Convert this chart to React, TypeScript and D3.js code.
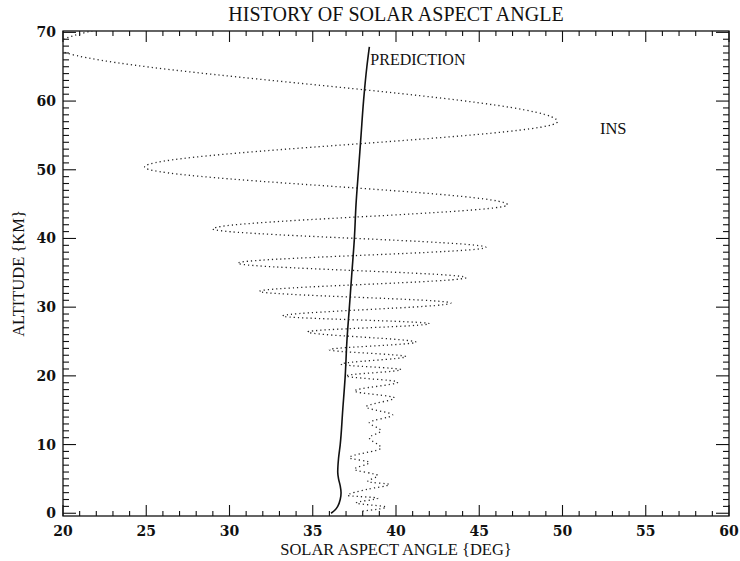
import React from "react";
import * as d3 from "d3";

// INS solar aspect angle: turning points of the coning oscillation
const INS_ALT = [0.3, 0.9, 1.5, 2.2, 2.6, 3.5, 4.2, 4.6, 5.5, 6.4, 7.4, 8.1, 9.5, 11.0, 12.0, 13.2, 14.3, 15.5, 16.8, 17.8, 19.1, 20.0, 20.9, 21.7, 22.8, 23.8, 24.9, 26.4, 27.6, 28.7, 30.6, 32.3, 34.3, 36.4, 38.7, 41.4, 44.9, 50.4, 57.0, 68.0, 72.0];
const INS_DEG = [37.9, 39.4, 37.6, 38.9, 37.1, 38.3, 39.6, 38.3, 38.9, 37.5, 38.4, 37.2, 39.1, 38.4, 39.1, 38.4, 39.8, 38.2, 39.9, 37.5, 40.1, 37.0, 40.3, 36.7, 40.6, 36.0, 41.2, 34.7, 42.0, 33.2, 43.3, 31.8, 44.2, 30.5, 45.4, 29.0, 46.7, 24.9, 49.7, 19.5, 25.5];

// Prediction
const PRED_ALT = [0, 0.5, 1, 2, 3, 4, 5, 6, 8, 10, 15, 20, 25, 30, 35, 40, 45, 50, 55, 60, 65, 67.9];
const PRED_DEG = [36.1, 36.35, 36.5, 36.65, 36.7, 36.65, 36.55, 36.5, 36.55, 36.65, 36.8, 36.95, 37.05, 37.2, 37.35, 37.5, 37.6, 37.75, 37.9, 38.05, 38.25, 38.4];

const X_TICKS = [20, 25, 30, 35, 40, 45, 50, 55, 60];
const Y_TICKS = [0, 10, 20, 30, 40, 50, 60, 70];

const W = 740, H = 561;
const L = 63, R = 729, T = 31, B = 516;

export default function App() {
  const x = d3.scaleLinear().domain([20, 60]).range([L, R]);
  const y = d3.scaleLinear().domain([-0.4, 70.2]).range([B, T]);

  const toPts = (alts: number[], degs: number[]) =>
    alts.map((a, i) => [degs[i], a] as [number, number]).reverse();

  const line = d3
    .line<[number, number]>()
    .x((d) => x(d[0]))
    .y((d) => y(d[1]))
    .curve(d3.curveMonotoneY);

  const insPath = line(toPts(INS_ALT, INS_DEG)) || "";
  const predPath = line(toPts(PRED_ALT, PRED_DEG)) || "";

  const xMinor = d3.range(20, 61, 1);
  const yMinor = d3.range(0, 71, 1);
  const font = "'Liberation Serif', 'Times New Roman', serif";
  const tickFont = "'DejaVu Serif', serif";

  return (
    <svg width={W} height={H} style={{ position: "absolute", left: 0, top: 0, background: "#fff" }}>
      <defs>
        <clipPath id="plotclip">
          <rect x={L} y={T} width={R - L} height={B - T} />
        </clipPath>
      </defs>
      <rect x={0} y={0} width={W} height={H} fill="#fff" />
      <text x={(L + R) / 2} y={21} textAnchor="middle" fontFamily={font} fontSize={20} fill="#111">
        HISTORY OF SOLAR ASPECT ANGLE
      </text>

      <rect x={L} y={T} width={R - L} height={B - T} fill="none" stroke="#111" strokeWidth={1.3} />

      {xMinor.map((v) => {
        const major = v % 5 === 0;
        const len = major ? 11 : 5;
        return (
          <g key={"xt" + v} stroke="#111" strokeWidth={1.1}>
            <line x1={x(v)} x2={x(v)} y1={B} y2={B - len} />
            <line x1={x(v)} x2={x(v)} y1={T} y2={T + len} />
          </g>
        );
      })}
      {yMinor.map((v) => {
        const major = v % 10 === 0;
        const len = major ? 13 : 6;
        return (
          <g key={"yt" + v} stroke="#111" strokeWidth={1.1}>
            <line x1={L} x2={L + len} y1={y(v)} y2={y(v)} />
            <line x1={R} x2={R - len} y1={y(v)} y2={y(v)} />
          </g>
        );
      })}

      {X_TICKS.map((v) => (
        <text key={"xl" + v} x={x(v)} y={536} textAnchor="middle" fontFamily={tickFont} fontWeight="bold" fontSize={14} fill="#111">
          {v}
        </text>
      ))}
      {Y_TICKS.map((v) => (
        <text key={"yl" + v} x={L - 7} y={y(v) + 5} textAnchor="end" fontFamily={tickFont} fontWeight="bold" fontSize={14} fill="#111">
          {v}
        </text>
      ))}

      <text x={(L + R) / 2} y={555} textAnchor="middle" fontFamily={font} fontSize={16.5} fill="#111">
        {"SOLAR ASPECT ANGLE {DEG}"}
      </text>
      <text
        transform={`translate(24, ${(T + B) / 2}) rotate(-90)`}
        textAnchor="middle"
        fontFamily={font}
        fontSize={16.5}
        fill="#111"
      >
        {"ALTITUDE {KM}"}
      </text>

      <g clipPath="url(#plotclip)">
        <path d={insPath} fill="none" stroke="#222" strokeWidth={1.3} strokeDasharray="1.2 3" />
        <path d={predPath} fill="none" stroke="#111" strokeWidth={1.6} />
      </g>

      <text x={x(38.4) + 1} y={y(65.3)} fontFamily={font} fontSize={16} fill="#111">
        PREDICTION
      </text>
      <text x={x(52.25)} y={y(55.2)} fontFamily={font} fontSize={16.5} fill="#111">
        INS
      </text>
    </svg>
  );
}
